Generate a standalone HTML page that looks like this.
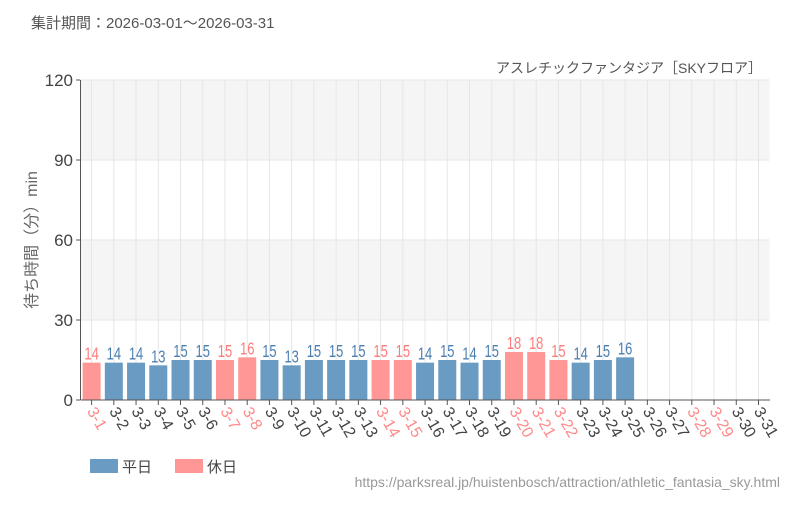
<!DOCTYPE html>
<html><head><meta charset="utf-8"><style>
body{margin:0;background:#fff;}
svg text{font-family:"Liberation Sans","Noto Sans CJK JP",sans-serif;}
</style></head><body>
<svg width="800" height="500" viewBox="0 0 800 500" xmlns="http://www.w3.org/2000/svg">
<text x="31" y="28" font-size="15" fill="#555">集計期間：2026-03-01～2026-03-31</text>
<text x="762" y="73" font-size="14" fill="#555" text-anchor="end">アスレチックファンタジア［SKYフロア］</text>
<rect x="80.5" y="80" width="689" height="80" fill="#f5f5f5"/>
<rect x="80.5" y="240" width="689" height="80" fill="#f5f5f5"/>
<g stroke="#e6e6e6" stroke-width="1">
<line x1="80.5" y1="80" x2="769.5" y2="80"/>
<line x1="80.5" y1="160" x2="769.5" y2="160"/>
<line x1="80.5" y1="240" x2="769.5" y2="240"/>
<line x1="80.5" y1="320" x2="769.5" y2="320"/>
</g>
<g id="g"></g>
<line x1="80.5" y1="80" x2="80.5" y2="400" stroke="#555"/>
<line x1="80.5" y1="400" x2="770" y2="400" stroke="#555"/>
<g font-size="17" fill="#444" text-anchor="end">
<text x="73" y="86">120</text><text x="73" y="166">90</text><text x="73" y="246">60</text><text x="73" y="326">30</text><text x="73" y="406">0</text>
</g>
<g stroke="#555"><line x1="76" y1="80" x2="80" y2="80"/><line x1="76" y1="160" x2="80" y2="160"/><line x1="76" y1="240" x2="80" y2="240"/><line x1="76" y1="320" x2="80" y2="320"/><line x1="76" y1="400" x2="80" y2="400"/></g>
<text transform="translate(37,240) rotate(-90)" font-size="16" fill="#666" text-anchor="middle">待ち時間（分）min</text>
<rect x="90" y="459" width="28" height="14" fill="#6a9bc3"/>
<text x="122" y="472" font-size="15" fill="#444">平日</text>
<rect x="175" y="459" width="28" height="14" fill="#ff9797"/>
<text x="207" y="472" font-size="15" fill="#444">休日</text>
<text x="780" y="487" font-size="14" fill="#999" text-anchor="end">https://parksreal.jp/huistenbosch/attraction/athletic_fantasia_sky.html</text>
</svg>
<script>
var v=[14,14,14,13,15,15,15,16,15,13,15,15,15,15,15,14,15,14,15,18,18,15,14,15,16,null,null,null,null,null,null];
var h=[1,7,8,14,15,20,21,22,28,29];
var g=document.getElementById('g'),s='';
for(var i=0;i<31;i++){var c=91.6+i*22.23,d=i+1,hol=h.indexOf(d)>=0;
s+='<line x1="'+c+'" y1="80" x2="'+c+'" y2="400" stroke="#e6e6e6"/>';
s+='<line x1="'+c+'" y1="400" x2="'+c+'" y2="405" stroke="#555"/>';
if(v[i]!=null){var y=400-v[i]*320/120,col=hol?'#ff9797':'#6a9bc3',tc=hol?'#ff7b7b':'#4a7fb0';
s+='<rect x="'+(c-9)+'" y="'+y+'" width="18" height="'+(400-y)+'" fill="'+col+'"/>';
s+='<text x="'+c+'" y="'+(y-3)+'" font-size="18" fill="'+tc+'" text-anchor="middle" transform="translate('+c+',0) scale(0.72,1) translate('+(-c)+',0)">'+v[i]+'</text>';}
s+='<text x="'+(c-5)+'" y="411" font-size="16" fill="'+(hol?'#ff8a8a':'#444')+'" transform="rotate(60 '+(c-5)+' 411)">3-'+d+'</text>';}
g.innerHTML=s;
</script>
</body></html>
